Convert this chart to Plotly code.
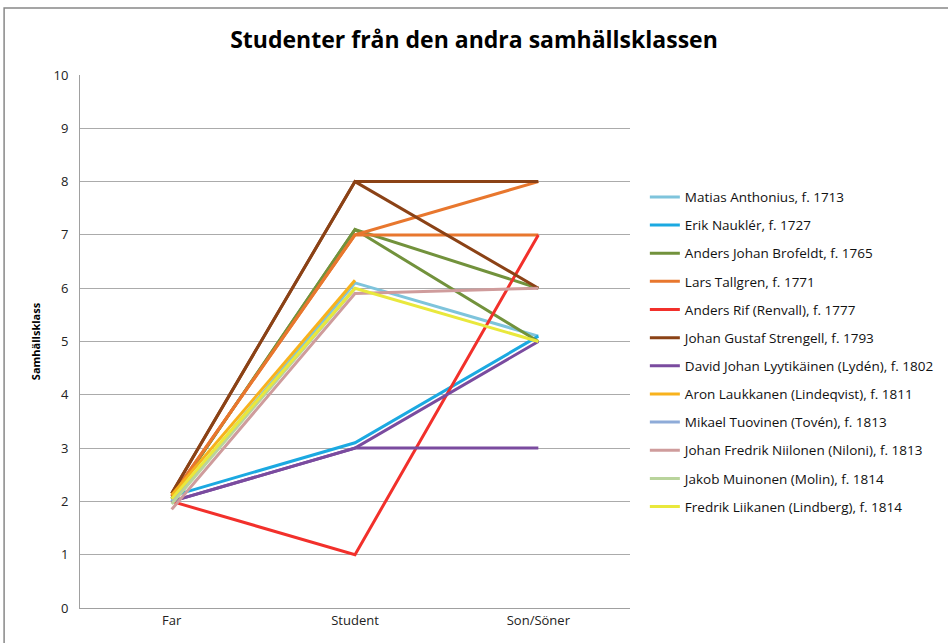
import plotly.graph_objects as go

categories = ["Far", "Student", "Son/Söner"]

names = [
    "Matias Anthonius, f. 1713",
    "Erik Nauklér, f. 1727",
    "Anders Johan Brofeldt, f. 1765",
    "Lars Tallgren, f. 1771",
    "Anders Rif (Renvall), f. 1777",
    "Johan Gustaf Strengell, f. 1793",
    "David Johan Lyytikäinen (Lydén), f. 1802",
    "Aron Laukkanen (Lindeqvist), f. 1811",
    "Mikael Tuovinen (Tovén), f. 1813",
    "Johan Fredrik Niilonen (Niloni), f. 1813",
    "Jakob Muinonen (Molin), f. 1814",
    "Fredrik Liikanen (Lindberg), f. 1814",
]

# first son values
matias = [2.0, 6.1, 5.1]
erik = [2.1, 3.1, 5.1]
brofeldt = [2.05, 7.1, 6.0]
tallgren = [2.1, 7.0, 8.0]
rif = [2.0, 1.0, 7.0]
strengell = [2.15, 8.0, 8.0]
lyytikainen = [2.0, 3.0, 5.0]
aron = [2.12, 6.15, None]
mikael = [2.0, 6.0, None]
niilonen = [1.85, 5.9, 6.0]
jakob = [1.95, 6.0, None]
liikanen = [2.05, 6.0, 5.0]

# second son values (same person, another son)
brofeldt_2 = [2.05, 7.1, 5.0]
tallgren_2 = [2.1, 7.0, 7.0]
strengell_2 = [2.15, 8.0, 6.0]
lyytikainen_2 = [2.0, 3.0, 3.0]

colors = ["#7EC4DC", "#1BA9E1", "#72923C", "#E8772E", "#F2302B", "#8B4216",
          "#7A4B9F", "#F8B21C", "#8EABD8", "#CF9C9C", "#B9D49C", "#E9E83C"]

series = [matias, erik, brofeldt, tallgren, rif, strengell, lyytikainen,
          aron, mikael, niilonen, jakob, liikanen]
extras = {2: brofeldt_2, 3: tallgren_2, 5: strengell_2, 6: lyytikainen_2}

fig = go.Figure()
for i, (nm, vals) in enumerate(zip(names, series)):
    fig.add_trace(go.Scatter(x=categories, y=vals, mode="lines", name=nm,
                             legendgroup=str(i),
                             line=dict(color=colors[i], width=3)))
    if i in extras:
        fig.add_trace(go.Scatter(x=categories, y=extras[i], mode="lines", name=nm,
                                 legendgroup=str(i), showlegend=False,
                                 line=dict(color=colors[i], width=3)))

fig.update_layout(
    width=948, height=643,
    paper_bgcolor="white", plot_bgcolor="white",
    margin=dict(l=80, r=318, t=75, b=35, autoexpand=False),
    title=dict(text="<b>Studenter från den andra samhällsklassen</b>",
               x=0.5, xanchor="center", y=0.938, yanchor="middle",
               font=dict(family="Open Sans", size=23, color="#000000")),
    font=dict(family="Open Sans", size=13, color="#222222"),
    showlegend=True,
    legend=dict(x=1.027, xanchor="left", y=0.80, yanchor="top",
                tracegroupgap=7.6, font=dict(size=13.5, color="#111111"),
                bgcolor="rgba(0,0,0,0)"),
    xaxis=dict(type="category", range=[-0.5, 2.5], showgrid=False,
               showline=True, linecolor="#A0A0A0", linewidth=1,
               ticks="", tickfont=dict(size=13, color="#222222")),
    yaxis=dict(range=[0, 10], dtick=1, showgrid=True, gridcolor="#ABABAB",
               gridwidth=1, showline=True, linecolor="#A0A0A0", linewidth=1,
               zeroline=False, ticks="", ticklabelstandoff=8,
               tickfont=dict(size=13, color="#222222"),
               title=dict(text="<b>Samhällsklass</b>", font=dict(size=11, color="#000"),
                          standoff=10)),
    shapes=[dict(type="rect", xref="paper", yref="paper",
                 x0=-0.138, x1=1.6, y0=-0.2, y1=1.1255,
                 line=dict(color="#888888", width=1.5), fillcolor="rgba(0,0,0,0)")],
)

fig.write_html("out.html", config={"displayModeBar": False},
               post_script="document.body.style.margin='0';")
